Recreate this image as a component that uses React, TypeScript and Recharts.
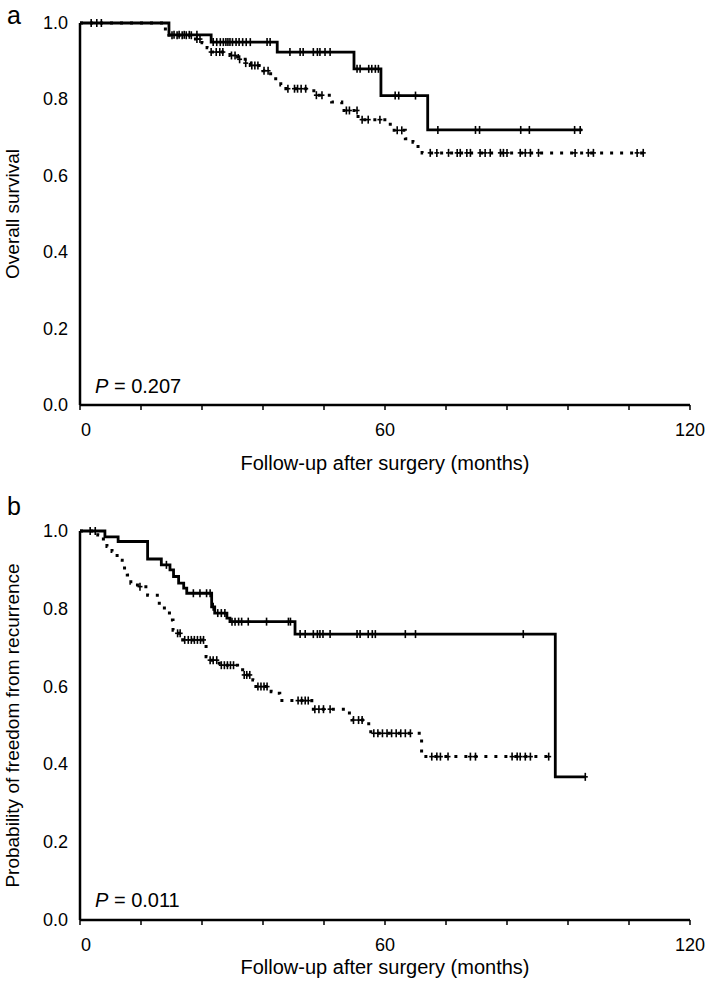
import React from 'react';
import { ComposedChart, Line, Scatter, XAxis, YAxis } from 'recharts';

// ---------- DATA ----------
const xTicks = [0, 12, 24, 36, 48, 60, 72, 84, 96, 108, 120];
const xLabelTicks = [0, 60, 120];
const yTicks = [0, 0.2, 0.4, 0.6, 0.8, 1.0];

// Panel a: overall survival (step points: [month, survival])
const aSolidSteps: [number, number][] = [
  [0, 1.0], [17.5, 0.969], [25.8, 0.95], [38.8, 0.924], [53.9, 0.88], [59.2, 0.81], [68.4, 0.72], [98.8, 0.72],
];
const aSolidCensors: [number, number][] = [
  [18.5, 0.969], [19.5, 0.969], [20.5, 0.969], [21.5, 0.969], [23, 0.969],
  [26.2, 0.95], [26.9, 0.95], [27.6, 0.95], [28.2, 0.95], [28.7, 0.95], [29.1, 0.95], [29.5, 0.95], [30, 0.95],
  [30.7, 0.95], [31.3, 0.95], [32, 0.95], [32.7, 0.95], [33.5, 0.95], [36.8, 0.95], [37.4, 0.95],
  [41.3, 0.924], [43.3, 0.924], [43.9, 0.924], [45.9, 0.924], [46.7, 0.924], [47.2, 0.924], [48.2, 0.924], [49.2, 0.924],
  [54.5, 0.88], [55.1, 0.88], [56.8, 0.88], [57.4, 0.88], [58.1, 0.88], [58.7, 0.88],
  [62, 0.81], [62.7, 0.81], [66, 0.81],
  [70.4, 0.72], [77.8, 0.72], [78.6, 0.72], [86.7, 0.72], [88.4, 0.72], [97.3, 0.72], [98.4, 0.72],
];
const aDottedSteps: [number, number][] = [
  [0, 1.0], [16.5, 0.984], [17.5, 0.968], [22, 0.958], [24, 0.948], [25, 0.935], [26, 0.924], [29.5, 0.915],
  [31, 0.905], [32.5, 0.895], [33.5, 0.889], [36, 0.875], [37.5, 0.862], [38.5, 0.848], [39.5, 0.838],
  [40.5, 0.828], [46, 0.811], [49.5, 0.793], [51.5, 0.771], [54.7, 0.747], [60.5, 0.735], [61.5, 0.719],
  [64, 0.697], [65.5, 0.688], [66.5, 0.672], [67.3, 0.66], [111.2, 0.66],
];
const aDottedCensors: [number, number][] = [
  [2.2, 1.0], [3.3, 1.0], [4.2, 1.0],
  [18.1, 0.968], [19.1, 0.968], [20.1, 0.968], [20.9, 0.968], [21.9, 0.968],
  [23, 0.958], [23.6, 0.958],
  [25.8, 0.924], [26.8, 0.924], [27.5, 0.924], [28.1, 0.924],
  [29.8, 0.915], [30.5, 0.915], [31.4, 0.905],
  [32.6, 0.895], [33.8, 0.889], [34.4, 0.889], [35, 0.889],
  [36.2, 0.875], [37, 0.875],
  [40.9, 0.828], [42.2, 0.828], [42.8, 0.828], [43.5, 0.828], [44.4, 0.828],
  [46.5, 0.811], [47.6, 0.811],
  [52.4, 0.771], [53, 0.771], [54.5, 0.771],
  [55.5, 0.747], [56.7, 0.747], [59, 0.747],
  [62.4, 0.719], [63.3, 0.719],
  [68.9, 0.66], [70.2, 0.66], [72.5, 0.66], [74.2, 0.66], [74.8, 0.66], [76.1, 0.66], [76.8, 0.66],
  [78.7, 0.66], [79.7, 0.66], [80.7, 0.66], [82.7, 0.66], [83.3, 0.66], [84, 0.66],
  [86.6, 0.66], [87.6, 0.66], [88.6, 0.66], [90.2, 0.66], [97.4, 0.66], [100, 0.66], [101, 0.66],
  [109.6, 0.66], [110.8, 0.66],
];

// Panel b: freedom from recurrence
const bSolidSteps: [number, number][] = [
  [0, 1.0], [4.9, 0.985], [7.5, 0.973], [13.3, 0.928], [16, 0.913], [17.7, 0.9], [18.4, 0.883], [19.4, 0.866],
  [20.4, 0.853], [21, 0.84], [25.9, 0.805], [26.5, 0.789], [28.9, 0.776], [29.5, 0.767], [42.3, 0.735],
  [93.5, 0.368], [99.4, 0.368],
];
const bSolidCensors: [number, number][] = [
  [17, 0.913],
  [22.3, 0.84], [23.6, 0.84], [24.9, 0.84], [25.6, 0.84],
  [26.2, 0.805], [27.1, 0.789], [27.8, 0.789], [28.5, 0.789],
  [29.9, 0.767], [30.5, 0.767], [31.2, 0.767], [31.8, 0.767], [33.1, 0.767], [36.7, 0.767], [41, 0.767], [41.4, 0.767],
  [43.3, 0.735], [44.3, 0.735], [45.9, 0.735], [46.7, 0.735], [47.2, 0.735], [47.8, 0.735], [49.2, 0.735],
  [54.5, 0.735], [55.1, 0.735], [56.7, 0.735], [57.5, 0.735], [58.1, 0.735], [64, 0.735], [66, 0.735], [87.2, 0.735],
  [99.4, 0.368],
];
const bDottedSteps: [number, number][] = [
  [0, 1.0], [3.5, 0.99], [4.6, 0.973], [5.3, 0.96], [6.3, 0.947], [7.3, 0.925], [8.3, 0.905], [9.3, 0.887],
  [10, 0.866], [11.3, 0.857], [13.3, 0.835], [15.6, 0.81], [16.6, 0.789], [17.6, 0.771], [18.3, 0.745],
  [18.9, 0.737], [20.2, 0.72], [24.8, 0.677], [25.3, 0.668], [27.4, 0.655], [31, 0.643], [32, 0.63],
  [34, 0.617], [34.6, 0.6], [37.6, 0.587], [38.5, 0.583], [39.3, 0.564], [45.6, 0.542], [53, 0.519],
  [53.5, 0.514], [56.8, 0.499], [57.2, 0.48], [67.2, 0.42], [92.5, 0.42],
];
const bDottedCensors: [number, number][] = [
  [2.0, 1.0], [3.0, 1.0],
  [11.8, 0.857],
  [19.2, 0.737], [19.7, 0.737],
  [20.6, 0.72], [21.3, 0.72], [21.9, 0.72], [22.5, 0.72], [23.1, 0.72], [23.7, 0.72], [24.3, 0.72],
  [25.6, 0.668], [26.2, 0.668], [26.9, 0.668],
  [27.8, 0.655], [28.4, 0.655], [29, 0.655], [29.6, 0.655], [30.2, 0.655],
  [32.3, 0.63], [32.8, 0.63], [33.4, 0.63],
  [35, 0.6], [35.6, 0.6], [36.2, 0.6], [36.8, 0.6],
  [42.9, 0.564], [43.6, 0.564], [44.3, 0.564], [44.9, 0.564],
  [46.2, 0.542], [47, 0.542], [47.9, 0.542], [49.2, 0.542],
  [53.8, 0.514], [54.8, 0.514], [55.5, 0.514],
  [57.8, 0.48], [58.6, 0.48], [59.5, 0.48], [60.4, 0.48], [61.3, 0.48], [62.2, 0.48], [63.1, 0.48], [64, 0.48], [65, 0.48],
  [69.2, 0.42], [70.2, 0.42], [70.9, 0.42], [72.4, 0.42], [76.8, 0.42], [77.8, 0.42],
  [85, 0.42], [86, 0.42], [86.6, 0.42], [87.6, 0.42], [88.6, 0.42], [92.2, 0.42],
];

const panelLetters = ['a', 'b'];
const pValues = ['0.207', '0.011'];
const yTitles = ['Overall survival', 'Probability of freedom from recurrence'];
const xTitle = 'Follow-up after surgery (months)';

// ---------- RENDERING ----------
const FONT = '"Liberation Sans", Arial, Helvetica, sans-serif';
const toPts = (arr: [number, number][]) => arr.map(([t, s]) => ({ t, s }));

const Censor = (props: any) => {
  const { cx, cy } = props;
  if (cx == null || cy == null) return null;
  return (
    <g>
      <line x1={cx} x2={cx} y1={cy - 4} y2={cy + 4} stroke="#000" strokeWidth={1.6} />
      <line x1={cx - 2.5} x2={cx + 2.5} y1={cy} y2={cy} stroke="#000" strokeWidth={1.6} />
    </g>
  );
};

const XTick = (props: any) => {
  const { x, y, payload } = props;
  const v = payload.value;
  if (!xLabelTicks.includes(v)) return null;
  const dx = v === 0 ? 6 : 0;
  return (
    <text x={x + dx} y={y} dy={16} textAnchor="middle" fontSize={18} fontFamily={FONT} fill="#000">
      {v}
    </text>
  );
};

const YTick = (props: any) => {
  const { x, y, payload } = props;
  return (
    <text x={x} y={y} dy={6} textAnchor="end" fontSize={18} fontFamily={FONT} fill="#000">
      {Number(payload.value).toFixed(1)}
    </text>
  );
};

type PanelProps = {
  height: number;
  top: number;
  xAxisHeight: number;
  solidSteps: [number, number][];
  solidCensors: [number, number][];
  dottedSteps: [number, number][];
  dottedCensors: [number, number][];
  yTitle: string;
  titleOffset: number;
};

const Panel = (p: PanelProps) => (
  <ComposedChart
    width={709}
    height={p.height}
    margin={{ top: p.top, right: 19, bottom: 0, left: 0 }}
    style={{ fontFamily: FONT }}
  >
    <XAxis
      type="number"
      dataKey="t"
      domain={[0, 120]}
      ticks={xTicks}
      interval={0}
      height={p.xAxisHeight}
      tick={<XTick />}
      tickSize={5}
      tickMargin={10}
      axisLine={{ stroke: '#000', strokeWidth: 2.5 }}
      tickLine={{ stroke: '#000', strokeWidth: 1.5 }}
      label={{
        value: xTitle,
        position: 'insideBottom',
        offset: p.titleOffset,
        style: { fontSize: 20, fontFamily: FONT, fill: '#000' },
      }}
    />
    <YAxis
      type="number"
      dataKey="s"
      domain={[0, 1]}
      ticks={yTicks}
      width={80}
      tick={<YTick />}
      tickLine={false}
      tickSize={6}
      tickMargin={6}
      axisLine={{ stroke: '#000', strokeWidth: 2.5 }}
      label={{
        value: p.yTitle,
        angle: -90,
        position: 'insideLeft',
        offset: 12,
        style: { textAnchor: 'middle', fontSize: 19, fontFamily: FONT, fill: '#000' },
      }}
    />
    <Line
      data={toPts(p.dottedSteps)}
      dataKey="s"
      type="stepAfter"
      stroke="#000"
      strokeWidth={3}
      strokeDasharray="3 7"
      dot={false}
      activeDot={false}
      isAnimationActive={false}
    />
    <Line
      data={toPts(p.solidSteps)}
      dataKey="s"
      type="stepAfter"
      stroke="#000"
      strokeWidth={2.8}
      dot={false}
      activeDot={false}
      isAnimationActive={false}
    />
    <Scatter data={toPts(p.dottedCensors)} dataKey="s" shape={(s: any) => <Censor {...s} />} isAnimationActive={false} />
    <Scatter data={toPts(p.solidCensors)} dataKey="s" shape={(s: any) => <Censor {...s} />} isAnimationActive={false} />
  </ComposedChart>
);

export default function App() {
  return (
    <div style={{ position: 'absolute', left: 0, top: 0, width: 709, height: 1000, background: '#fff' }}>
      <div style={{ position: 'absolute', left: 0, top: 0 }}>
        <Panel
          height={480}
          top={23}
          xAxisHeight={75}
          solidSteps={aSolidSteps}
          solidCensors={aSolidCensors}
          dottedSteps={aDottedSteps}
          dottedCensors={aDottedCensors}
          yTitle={yTitles[0]}
          titleOffset={10}
        />
      </div>
      <div style={{ position: 'absolute', left: 0, top: 490 }}>
        <Panel
          height={510}
          top={41}
          xAxisHeight={80}
          solidSteps={bSolidSteps}
          solidCensors={bSolidCensors}
          dottedSteps={bDottedSteps}
          dottedCensors={bDottedCensors}
          yTitle={yTitles[1]}
          titleOffset={26}
        />
      </div>
      <svg
        width={709}
        height={1000}
        style={{ position: 'absolute', left: 0, top: 0, pointerEvents: 'none' }}
        fontFamily={FONT}
      >
        <text x={7} y={24} fontSize={25} fill="#000">{panelLetters[0]}</text>
        <text x={7} y={515} fontSize={25} fill="#000">{panelLetters[1]}</text>
        <text x={95} y={393} fontSize={20} fill="#000">
          <tspan fontStyle="italic">P</tspan> = {pValues[0]}
        </text>
        <text x={95} y={907} fontSize={20} fill="#000">
          <tspan fontStyle="italic">P</tspan> = {pValues[1]}
        </text>
      </svg>
    </div>
  );
}
